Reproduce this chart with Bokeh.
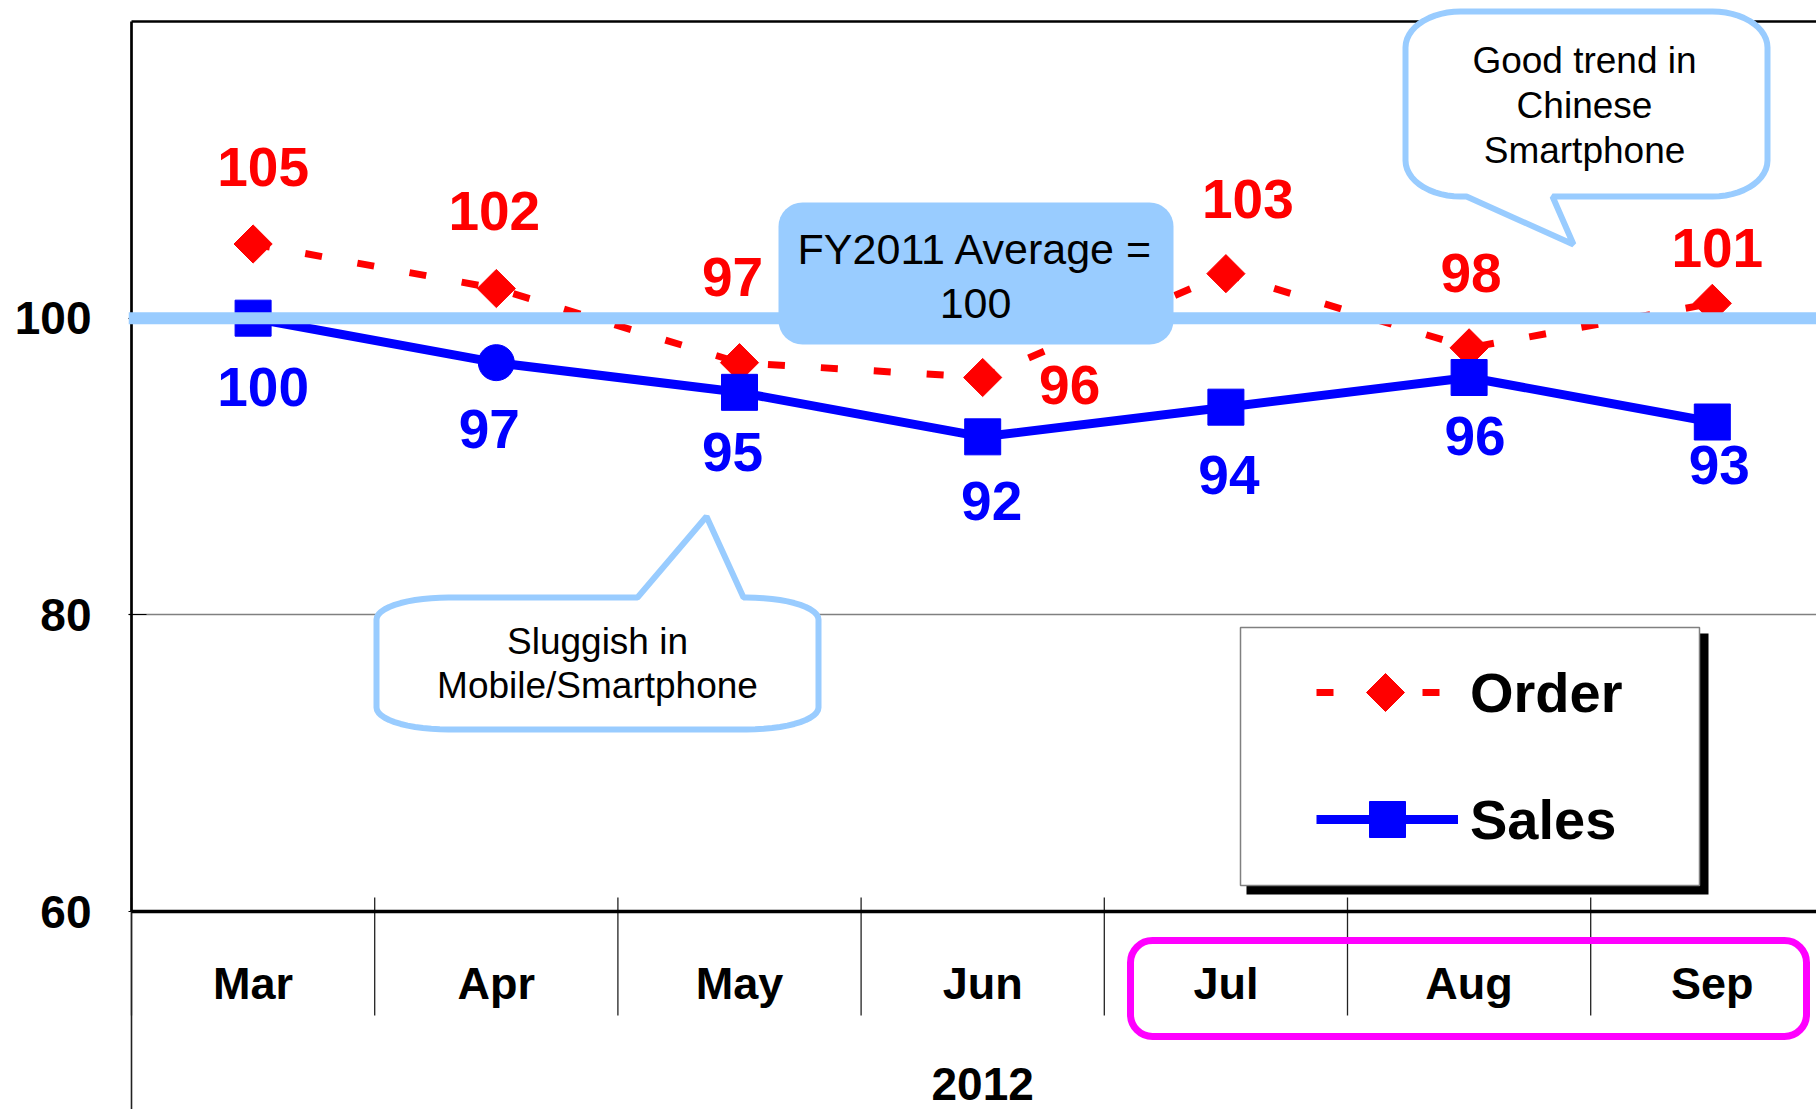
import numpy as np
from bokeh.plotting import figure
from bokeh.models import (ColumnDataSource, FixedTicker, LinearAxis, Span, BoxAnnotation,
                          PolyAnnotation, Label, Legend, LegendItem, Arrow, Range1d, Grid)
from bokeh.embed import file_html
from bokeh.resources import INLINE
from bokeh.core.properties import value, field

# ---------------- data ----------------
months = ["Mar", "Apr", "May", "Jun", "Jul", "Aug", "Sep"]
order = [105, 102, 97, 96, 103, 98, 101]
sales = [100, 97, 95, 92, 94, 96, 93]
y_ticks = [60, 80, 100]
year_label = "2012"
avg_value = 100

# ---------------- styles / label placement (px) ----------------
order_dx = [10, -2, -7, 87, 22, 2, 5]
order_dy = [-77, -78, -86, 7, -75, -75, -55]
sales_dx = [10, -7, -7, 9, 3, 6, 7]
sales_dy = [69, 66, 60, 64, 68, 58, 43]
sales_markers = ["square", "circle", "square", "square", "square", "square", "square"]

FONT = "Liberation Sans"
RED, BLUE, LBLUE, MAGENTA = "#FF0000", "#0000FF", "#99CCFF", "#FF00FF"

# ---------------- layout (page px) ----------------
W, H = 1816, 1109
FL = 128                 # frame left
AXX = 131                # x pixel of the left axis line (category edge -0.5)
CAT_W = 243.2            # px per category
Y60, Y120 = 911, 21      # px of y=60 and y=120
PPU = (Y60 - Y120) / 60.0


def dx(px):
    return -0.5 + (px - AXX) / CAT_W


def dy(py):
    return 60 + (Y60 - py) / PPU


xs = list(range(len(months)))

p = figure(width=W, height=H, x_range=Range1d(dx(FL), dx(W)), y_range=Range1d(dy(H), dy(0)),
           output_backend="svg", toolbar_location=None,
           min_border_left=FL, min_border_top=0, min_border_right=0, min_border_bottom=0,
           x_axis_type=None, y_axis_type=None)
p.outline_line_color = None
p.background_fill_color = "white"
p.border_fill_color = "white"

# grid
p.add_layout(Grid(dimension=1, ticker=FixedTicker(ticks=[t for t in y_ticks if t > 60]),
                  grid_line_color="#808080", grid_line_width=1.5))

# y axis (labels + ticks); axis line drawn separately
yaxis = LinearAxis(ticker=FixedTicker(ticks=y_ticks), axis_line_color=None,
                   major_tick_in=18, major_tick_out=0, major_tick_line_color="black",
                   minor_tick_line_color=None, major_label_standoff=37,
                   major_label_text_font=FONT, major_label_text_font_size="46px",
                   major_label_text_font_style="bold", major_label_text_color="black")
p.add_layout(yaxis, "left")

x_lo, x_hi = -0.5, dx(W)
# frame lines: left, top, bottom (category axis)
p.add_layout(Arrow(start=None, end=None, x_start=x_lo, y_start=60, x_end=x_lo, y_end=120,
                   line_color="black", line_width=2.7))
p.add_layout(Arrow(start=None, end=None, x_start=x_lo, y_start=dy(H), x_end=x_lo, y_end=60,
                   line_color="#222222", line_width=1.6))
p.add_layout(Arrow(start=None, end=None, x_start=x_lo, y_start=120, x_end=x_hi, y_end=120,
                   line_color="black", line_width=2.7))

# category separators
bounds = [x - 0.5 for x in xs] + [xs[-1] + 0.5]
p.segment(x0=bounds, y0=dy(897), x1=bounds, y1=dy(1015), line_color="#222222", line_width=1.3)
p.add_layout(Arrow(start=None, end=None, x_start=x_lo, y_start=60, x_end=x_hi, y_end=60,
                   line_color="black", line_width=3.5))

# data
src = ColumnDataSource(dict(
    x=xs, month=months, order=order, sales=sales,
    olab=[str(v) for v in order], slab=[str(v) for v in sales],
    odx=order_dx, ody=order_dy, sdx=sales_dx, sdy=sales_dy, sm=sales_markers))

# month labels and year
p.text(x="x", y=value(dy(983)), text="month", source=src, text_color="black",
       text_font=value(FONT), text_font_size="45px", text_font_style="bold",
       text_align="center", text_baseline="middle")
p.add_layout(Label(x=(xs[0] + xs[-1]) / 2, y=dy(1083), text=year_label, text_align="center",
                   text_baseline="middle", text_font=FONT, text_font_size="46px",
                   text_font_style="bold", text_color="black"))

order_line = p.line("x", "order", source=src, line_color=RED, line_width=7, line_dash="17 36")
order_pts = p.scatter("x", "order", source=src, marker="square", angle=np.pi / 4, size=27,
                      fill_color=RED, line_color=RED)
sales_line = p.line("x", "sales", source=src, line_color=BLUE, line_width=9)
sales_pts = p.scatter("x", "sales", source=src, marker=field("sm"), size=36,
                      fill_color=BLUE, line_color=BLUE)

p.text("x", "order", text="olab", x_offset="odx", y_offset="ody", source=src,
       text_color=RED, text_font=value(FONT), text_font_size="55px", text_font_style="bold",
       text_align="center", text_baseline="middle")
p.text("x", "sales", text="slab", x_offset="sdx", y_offset="sdy", source=src,
       text_color=BLUE, text_font=value(FONT), text_font_size="55px", text_font_style="bold",
       text_align="center", text_baseline="middle")

# average line
p.add_layout(Span(location=avg_value, dimension="width", line_color=LBLUE, line_width=12))

# FY2011 average box
p.add_layout(BoxAnnotation(left=dx(778), right=dx(1173), top=dy(202), bottom=dy(344),
                           fill_color=LBLUE, fill_alpha=1, line_color=None, border_radius=24))
for txt, mid in [("FY2011 Average =", 248), ("100", 303)]:
    p.add_layout(Label(x=dx(975), y=dy(mid), text=txt, text_align="center",
                       text_baseline="middle", text_font=FONT, text_font_size="43px",
                       text_color="black"))


def callout(l, t, r, b, rx, ry, tail_side, base_l, base_r, tip):
    pts = []

    def arc(cx, cy, a0, a1):
        for a in np.linspace(a0, a1, 14):
            pts.append((cx + rx * np.cos(a), cy + ry * np.sin(a)))

    arc(l + rx, t + ry, np.pi, 1.5 * np.pi)
    if tail_side == "top":
        pts.extend([(base_l, t), tip, (base_r, t)])
    arc(r - rx, t + ry, 1.5 * np.pi, 2 * np.pi)
    arc(r - rx, b - ry, 0, 0.5 * np.pi)
    if tail_side == "bottom":
        pts.extend([(base_r, b), tip, (base_l, b)])
    arc(l + rx, b - ry, 0.5 * np.pi, np.pi)
    return [dx(x) for x, _ in pts], [dy(y) for _, y in pts]


cx1, cy1 = callout(1405, 11, 1767, 196, 55, 36, "bottom", 1466, 1552, (1573, 244))
p.add_layout(PolyAnnotation(xs=cx1, ys=cy1, fill_color="white", fill_alpha=1,
                            line_color=LBLUE, line_alpha=1, line_width=6))
for txt, mid in [("Good trend in", 60), ("Chinese", 105), ("Smartphone", 150)]:
    p.add_layout(Label(x=dx(1584), y=dy(mid), text=txt, text_align="center",
                       text_baseline="middle", text_font=FONT, text_font_size="37px",
                       text_color="black"))

cx2, cy2 = callout(376, 597, 818, 729, 72, 22, "top", 637, 743, (706, 516))
p.add_layout(PolyAnnotation(xs=cx2, ys=cy2, fill_color="white", fill_alpha=1,
                            line_color=LBLUE, line_alpha=1, line_width=6))
for txt, mid in [("Sluggish in", 641), ("Mobile/Smartphone", 685)]:
    p.add_layout(Label(x=dx(597), y=dy(mid), text=txt, text_align="center",
                       text_baseline="middle", text_font=FONT, text_font_size="37px",
                       text_color="black"))

# highlight box around Jul-Sep
p.add_layout(BoxAnnotation(left=dx(1130), right=dx(1806), top=dy(940), bottom=dy(1036),
                           fill_alpha=0, line_color=MAGENTA, line_alpha=1, line_width=7,
                           border_radius=22))

# legend frame + shadow
p.add_layout(BoxAnnotation(left=dx(1246), right=dx(1708), top=dy(633), bottom=dy(894),
                           fill_color="black", fill_alpha=1, line_color=None))
p.add_layout(BoxAnnotation(left=dx(1240), right=dx(1699), top=dy(627), bottom=dy(885),
                           fill_color="white", fill_alpha=1, line_color="#808080",
                           line_alpha=1, line_width=1.5))

common = dict(padding=0, margin=0, spacing=0, glyph_width=142, label_standoff=12,
              label_text_font=FONT, label_text_font_size="56px", label_text_font_style="bold",
              label_text_color="black", border_line_alpha=0, background_fill_alpha=0)
leg_o = Legend(items=[LegendItem(label=value("Order"), renderers=[order_line])],
               location=(1316 - FL, H - 726), glyph_height=68, label_height=68, **common)
leg_s = Legend(items=[LegendItem(label=value("Sales"), renderers=[sales_line, sales_pts])],
               location=(1316 - FL, H - 864), glyph_height=90, label_height=90, **common)
p.add_layout(leg_o, "center")
p.add_layout(leg_s, "center")

# diamond key for the Order legend entry (drawn over the legend line)
kx, ky, kr = 1385, 692, 19
p.add_layout(PolyAnnotation(xs=[dx(kx), dx(kx + kr), dx(kx), dx(kx - kr)],
                            ys=[dy(ky - kr), dy(ky), dy(ky + kr), dy(ky)],
                            fill_color=RED, fill_alpha=1, line_color=RED, line_alpha=1,
                            line_width=1))

open("out.html", "w").write(file_html(p, INLINE))
